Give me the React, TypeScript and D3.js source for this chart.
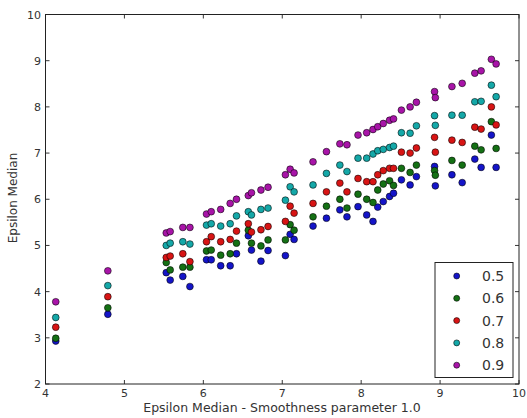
import React from "react";
import * as d3 from "d3";

const xValues = [4.13, 4.79, 5.53, 5.58, 5.74, 5.83, 6.04, 6.10, 6.22, 6.34, 6.42, 6.57, 6.61, 6.73, 6.82, 7.04, 7.10, 7.15, 7.39, 7.56, 7.73, 7.82, 7.96, 8.07, 8.15, 8.21, 8.28, 8.36, 8.41, 8.51, 8.62, 8.70, 8.93, 8.94, 9.15, 9.28, 9.44, 9.52, 9.65, 9.71];

const s05 = [2.93, 3.51, 4.41, 4.25, 4.33, 4.11, 4.69, 4.69, 4.56, 4.56, 4.82, 5.21, 4.90, 4.66, 4.89, 4.78, 5.24, 5.13, 5.42, 5.59, 5.77, 5.62, 5.84, 5.66, 5.52, 5.83, 5.95, 6.06, 6.13, 6.42, 6.31, 6.49, 6.71, 6.29, 6.53, 6.36, 6.87, 6.69, 7.39, 6.69];
const s06 = [2.99, 3.65, 4.63, 4.47, 4.53, 4.53, 4.88, 4.90, 4.79, 4.82, 5.05, 5.33, 5.05, 4.99, 5.12, 5.12, 5.45, 5.33, 5.62, 5.85, 6.00, 5.81, 6.11, 6.00, 5.93, 6.20, 6.33, 6.40, 6.30, 6.67, 6.58, 6.74, 6.62, 6.52, 6.84, 6.74, 7.15, 7.07, 7.68, 7.10];
const s07 = [3.23, 3.89, 4.74, 4.77, 4.82, 4.65, 5.08, 5.19, 5.08, 5.13, 5.31, 5.47, 5.29, 5.34, 5.41, 5.52, 5.85, 5.70, 5.91, 6.16, 6.35, 6.16, 6.45, 6.38, 6.38, 6.53, 6.62, 6.67, 6.67, 7.02, 7.00, 7.11, 7.34, 7.02, 7.28, 7.23, 7.56, 7.52, 8.00, 7.61];
const s08 = [3.44, 4.13, 5.00, 5.05, 5.08, 5.03, 5.44, 5.47, 5.42, 5.47, 5.64, 5.73, 5.66, 5.78, 5.81, 5.98, 6.27, 6.16, 6.31, 6.56, 6.74, 6.60, 6.89, 6.89, 6.98, 7.05, 7.08, 7.12, 7.15, 7.44, 7.43, 7.59, 7.81, 7.60, 7.82, 7.82, 8.11, 8.12, 8.47, 8.22];
const s09 = [3.78, 4.45, 5.27, 5.30, 5.39, 5.39, 5.68, 5.73, 5.78, 5.91, 6.00, 6.08, 6.14, 6.20, 6.26, 6.53, 6.65, 6.57, 6.81, 7.03, 7.20, 7.18, 7.39, 7.44, 7.51, 7.57, 7.64, 7.71, 7.74, 7.93, 8.00, 8.10, 8.33, 8.20, 8.44, 8.51, 8.73, 8.78, 9.03, 8.93];

const seriesLabels = ["0.5", "0.6", "0.7", "0.8", "0.9"];
const seriesValues = [s05, s06, s07, s08, s09];
const seriesColors = ["#1414c8", "#147014", "#d81414", "#14a8a8", "#a814a8"];

const xTicks = [4, 5, 6, 7, 8, 9, 10];
const yTicks = [2, 3, 4, 5, 6, 7, 8, 9, 10];

const xLabel = "Epsilon Median - Smoothness parameter 1.0";
const yLabel = "Epsilon Median";

export default function App() {
  const W = 527, H = 418;
  const left = 45.5, right = 519, top = 14.5, bottom = 384;
  const x = d3.scaleLinear().domain([4, 10]).range([left, right]);
  const y = d3.scaleLinear().domain([2, 10]).range([bottom, top]);
  const font = "'DejaVu Sans', sans-serif";
  const tickLen = 4;

  const legX = 435, legY = 262.5, legW = 78, legH = 115;
  const rowH = 22.3;

  return (
    <svg width={W} height={H} style={{ position: "absolute", left: 0, top: 0, background: "#fff" }} fontFamily={font}>
      <rect x={0} y={0} width={W} height={H} fill="#fff" />
      {seriesValues.map((vals, si) => (
        <g key={si}>
          {vals.map((v, i) => (
            <circle key={i} cx={x(xValues[i])} cy={y(v)} r={3.4} fill={seriesColors[si]} stroke="#000" strokeWidth={0.7} strokeOpacity={0.8} />
          ))}
        </g>
      ))}
      {xTicks.map((t) => (
        <g key={"x" + t}>
          <line x1={x(t)} x2={x(t)} y1={bottom} y2={bottom - tickLen} stroke="#000" strokeWidth={0.8} />
          <line x1={x(t)} x2={x(t)} y1={top} y2={top + tickLen} stroke="#000" strokeWidth={0.8} />
          <text x={x(t)} y={397} textAnchor="middle" fontSize={11} fill="#333">{t}</text>
        </g>
      ))}
      {yTicks.map((t) => (
        <g key={"y" + t}>
          <line x1={left} x2={left + tickLen} y1={y(t)} y2={y(t)} stroke="#000" strokeWidth={0.8} />
          <line x1={right} x2={right - tickLen} y1={y(t)} y2={y(t)} stroke="#000" strokeWidth={0.8} />
          <text x={41} y={y(t) + 4} textAnchor="end" fontSize={11} fill="#333">{t}</text>
        </g>
      ))}
      <rect x={left} y={top} width={right - left} height={bottom - top} fill="none" stroke="#222" strokeWidth={1} />
      <rect x={legX} y={legY} width={legW} height={legH} fill="#fff" stroke="#222" strokeWidth={1} />
      {seriesLabels.map((lab, i) => (
        <g key={lab}>
          <circle cx={456.7} cy={276 + i * rowH} r={3} fill={seriesColors[i]} stroke="#000" strokeWidth={0.7} strokeOpacity={0.8} />
          <text x={482} y={276 + i * rowH + 5} fontSize={14} fill="#333">{lab}</text>
        </g>
      ))}
      <text x={282} y={412} textAnchor="middle" fontSize={12.5} fill="#333">{xLabel}</text>
      <text transform={`translate(17,198) rotate(-90)`} textAnchor="middle" fontSize={12} fill="#333">{yLabel}</text>
    </svg>
  );
}
